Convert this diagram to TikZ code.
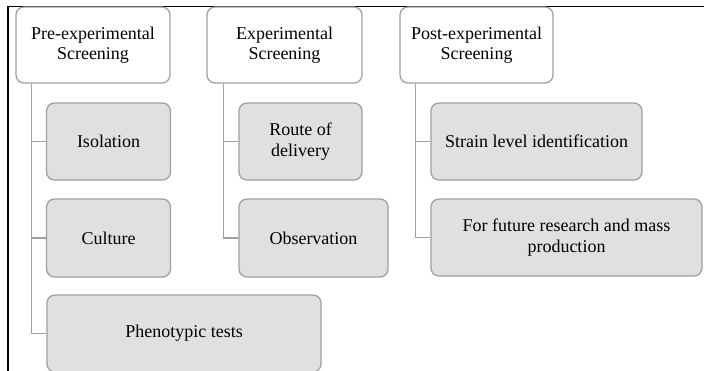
\documentclass[tikz,border=0pt]{standalone}
\usepackage{fontspec}
\setmainfont{Liberation Serif}
\definecolor{boxgray}{HTML}{E0E0E0}
\definecolor{linegray}{HTML}{A0A0A0}
\begin{document}
\begin{tikzpicture}[x=1pt,y=-1pt,
  base/.style={draw=linegray, line width=1.3pt, rounded corners=8pt, align=center,
    inner sep=0pt, font=\fontsize{18}{20.5}\selectfont, text=black},
  head/.style={base, fill=white},
  sub/.style={base, fill=boxgray},
  conn/.style={draw=linegray, line width=1.3pt}]
\useasboundingbox (0,0) rectangle (704,370);
% frame
\draw[line width=1.8pt] (704,6.5) -- (8,6.5) -- (8,372);
% column 1
\node[head, minimum width=154pt, minimum height=76pt] (h1) at (93,45) {Pre-experimental\\Screening};
\node[sub, minimum width=124pt, minimum height=77pt] (iso) at (108.5,141.5) {Isolation};
\node[sub, minimum width=124pt, minimum height=78pt] (cul) at (108.5,238) {Culture};
\node[sub, minimum width=274pt, minimum height=77pt] (phe) at (184,333.5) {Phenotypic tests};
% column 2
\node[head, minimum width=155pt, minimum height=76pt] (h2) at (284.5,45) {Experimental\\Screening};
\node[sub, minimum width=123pt, minimum height=77pt] (rou) at (300.5,141.5) {Route of\\delivery};
\node[sub, minimum width=149pt, minimum height=78pt] (obs) at (313.5,238) {Observation};
% column 3
\node[head, minimum width=153pt, minimum height=76pt] (h3) at (476.5,45) {Post-experimental\\Screening};
\node[sub, minimum width=211pt, minimum height=77pt] (str) at (536.5,141.5) {Strain level identification};
\node[sub, minimum width=271pt, minimum height=77pt] (fut) at (566.5,237.5) {For future research and mass\\production};
% connectors
\begin{scope}[on background layer/.try]
\draw[conn] ([xshift=16pt]h1.south west) |- (iso.west);
\draw[conn] ([xshift=16pt]h1.south west) |- (cul.west);
\draw[conn] ([xshift=16pt]h1.south west) |- (phe.west);
\draw[conn] ([xshift=17pt]h2.south west) |- (rou.west);
\draw[conn] ([xshift=17pt]h2.south west) |- (obs.west);
\draw[conn] ([xshift=16pt]h3.south west) |- (str.west);
\draw[conn] ([xshift=16pt]h3.south west) |- (fut.west);
\end{scope}
\end{tikzpicture}
\end{document}
